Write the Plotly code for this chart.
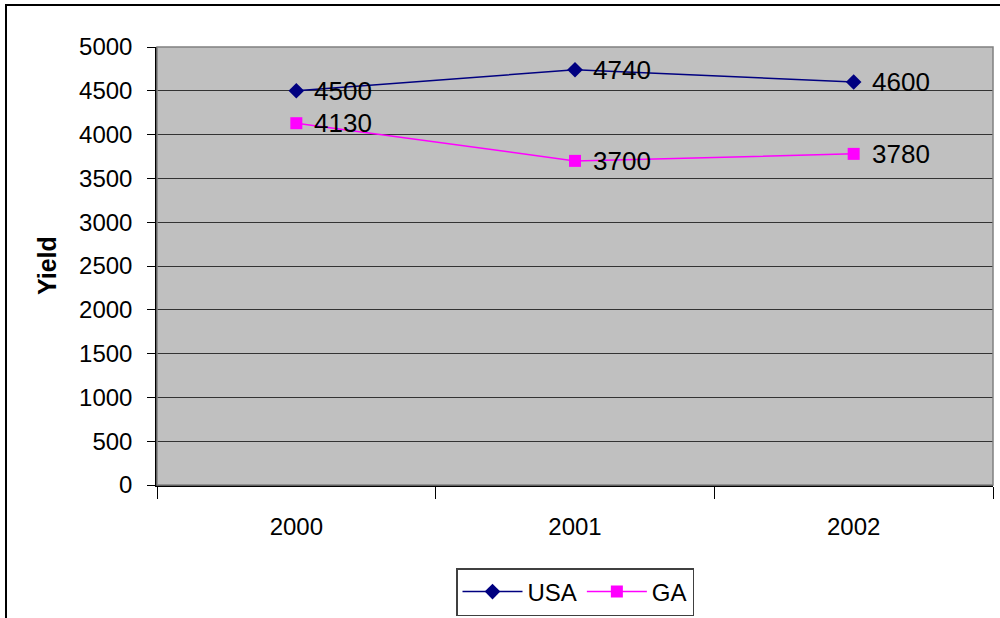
import plotly.graph_objects as go

years = ["2000", "2001", "2002"]
usa = [4500, 4740, 4600]
ga = [4130, 3700, 3780]
y_ticks = [0, 500, 1000, 1500, 2000, 2500, 3000, 3500, 4000, 4500, 5000]

font_family = "Liberation Sans, Arial, sans-serif"

fig = go.Figure()
fig.add_trace(go.Scatter(
    x=years, y=usa, name="USA", mode="lines+markers",
    line=dict(color="#000080", width=1.5),
    marker=dict(symbol="diamond", size=12, color="#000080"),
))
fig.add_trace(go.Scatter(
    x=years, y=ga, name="GA", mode="lines+markers",
    line=dict(color="#FF00FF", width=1.5),
    marker=dict(symbol="square", size=12, color="#FF00FF"),
))

# value labels to the right of each point (x given as category index)
labels = []
for series in (usa, ga):
    for i, v in enumerate(series):
        labels.append(dict(
            x=i, y=v, text=str(v), xref="x", yref="y",
            showarrow=False, xanchor="left", yanchor="middle",
            xshift=16, yshift=0,
            font=dict(size=26, color="black", family=font_family),
        ))

fig.update_layout(
    width=1000, height=618,
    margin=dict(l=157, r=7, t=47, b=133, autoexpand=False),
    paper_bgcolor="white",
    plot_bgcolor="#C0C0C0",
    font=dict(family=font_family, size=24, color="black"),
    showlegend=True,
    legend=dict(
        orientation="h", x=0.5, xanchor="center",
        yref="container", y=1 - 568 / 618, yanchor="top",
        bordercolor="#404040", borderwidth=1.5, bgcolor="white",
        font=dict(size=24), itemwidth=60, tracegroupgap=0,
    ),
    xaxis=dict(
        type="category", range=[-0.5, 2.5],
        showgrid=False, showline=True, linecolor="black", linewidth=1.5,
        ticks="outside", tickson="boundaries", ticklen=12, tickcolor="black",
        ticklabelstandoff=19, tickfont=dict(size=24),
    ),
    yaxis=dict(
        range=[0, 5000], tickvals=y_ticks,
        showgrid=True, gridcolor="#333333", gridwidth=1,
        showline=True, linecolor="black", linewidth=1.5,
        ticks="outside", ticklen=8, tickcolor="black",
        ticklabelstandoff=10, tickfont=dict(size=24),
        zeroline=False,
    ),
    shapes=[
        # plot-area frame (top and right edges in grey)
        dict(type="rect", xref="paper", yref="paper", x0=0, y0=0, x1=1, y1=1,
             line=dict(color="#808080", width=1.5), layer="above"),
        # chart-area border
        dict(type="rect", xref="paper", yref="paper",
             x0=-151 / 836, y0=-150 / 438, x1=1.02, y1=1 + 42 / 438,
             line=dict(color="black", width=2)),
    ],
    annotations=labels + [
        dict(text="<b>Yield</b>", xref="paper", yref="paper",
             x=-110 / 836, y=0.5, textangle=-90, showarrow=False,
             font=dict(size=25), xanchor="center", yanchor="middle"),
    ],
)

fig.write_html("out.html")
